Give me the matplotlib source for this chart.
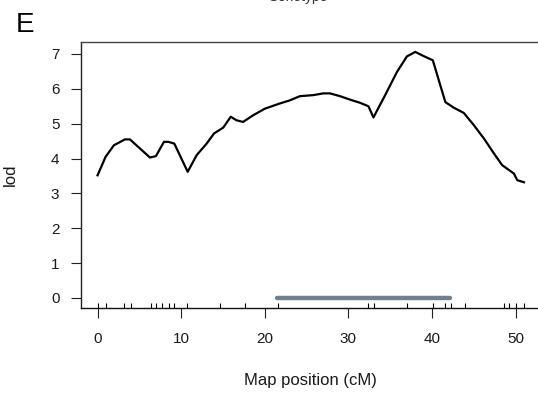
"""
LOD profile along the chromosome (qtl-style scan plot)
"""

import matplotlib
matplotlib.use("Agg")
import matplotlib.pyplot as plt

plt.rcParams['font.family'] = ['Liberation Sans', 'DejaVu Sans']

# LOD curve
pos_cm = [0.0, 0.96, 1.95, 3.27, 3.87, 5.07, 6.26, 6.98, 7.94, 8.46, 9.18,
          10.78, 11.86, 13.05, 13.93, 15.04, 15.93, 16.6, 17.4, 18.6, 20.0,
          21.8, 23.0, 24.2, 25.8, 27.0, 27.8, 29.0, 30.2, 31.4, 32.4, 33.0,
          34.4, 35.8, 37.0, 38.0, 39.0, 40.1, 41.6, 42.6, 43.8, 45.0, 46.2,
          47.4, 48.4, 49.8, 50.2, 51.0]
lod = [3.52, 4.05, 4.38, 4.55, 4.55, 4.29, 4.03, 4.07, 4.48, 4.48, 4.43,
       3.62, 4.10, 4.43, 4.72, 4.89, 5.20, 5.10, 5.05, 5.24, 5.43,
       5.58, 5.67, 5.79, 5.82, 5.87, 5.87, 5.79, 5.69, 5.60, 5.50, 5.18,
       5.82, 6.48, 6.93, 7.06, 6.94, 6.82, 5.62, 5.46, 5.31, 4.96, 4.58,
       4.15, 3.81, 3.57, 3.38, 3.32]

# marker positions (rug)
markers = [0.0, 1.0, 3.2, 3.95, 6.35, 6.98, 7.74, 8.54, 9.18, 10.73, 14.65,
           17.64, 21.55, 32.4, 33.1, 37.0, 40.1, 41.55, 42.3, 43.9, 48.6,
           49.2, 50.06, 51.0]

# support interval bar
interval = [21.5, 42.1]

x_ticks = [0, 10, 20, 30, 40, 50]
y_ticks = [0, 1, 2, 3, 4, 5, 6, 7]

W, H = 538, 396
fig = plt.figure(figsize=(W / 100, H / 100), dpi=100)
ax = fig.add_axes([80.5 / W, 1 - 308 / H, (541 - 80.5) / W, (308 - 42) / H])

ax.plot(pos_cm, lod, color='black', lw=1.6, solid_joinstyle='round')
ax.plot(interval, [0, 0], color='#708090', lw=3.2, solid_capstyle='round')
ax.vlines(markers, 0, 0.02, transform=ax.get_xaxis_transform(),
          color='black', lw=0.8)

ax.set_xlim(-2.04, 53.04)
ax.set_ylim(-0.287, 7.344)
ax.set_xticks(x_ticks)
ax.set_yticks(y_ticks)
ax.tick_params(axis='both', length=7.2, width=0.8, color='#222222',
               labelsize=11, labelcolor='#1a1a1a')
ax.tick_params(axis='y', pad=8)
ax.tick_params(axis='x', pad=10)

ax.spines['right'].set_visible(False)
for s in ['left', 'bottom', 'top']:
    ax.spines[s].set_linewidth(1.0)
ax.spines['top'].set_color('#444444')
ax.spines['left'].set_color('#222222')
ax.spines['bottom'].set_color('#111111')

fig.text(310 / W, 1 - 380 / H, 'Map position (cM)', ha='center', va='center',
         fontsize=12, color='#1a1a1a')
fig.text(10 / W, 1 - 175 / H, 'lod', ha='center', va='center', rotation=90,
         fontsize=12, color='#1a1a1a')
fig.text(16 / W, 1 - 32 / H, 'E', ha='left', va='baseline', fontsize=20,
         color='black')
fig.text(297 / W, 1 - 1.0 / H, 'Genotype', ha='center', va='baseline',
         fontsize=10, color='#333333')

fig.savefig('out.png', dpi=100)
